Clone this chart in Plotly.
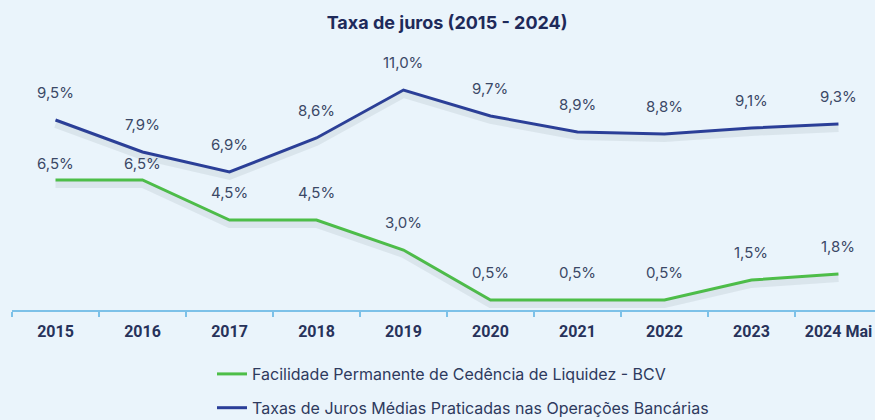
import plotly.graph_objects as go

# ---- data ----
years = ["2015", "2016", "2017", "2018", "2019", "2020", "2021", "2022", "2023", "2024 Mai"]
facilidade_bcv = [6.5, 6.5, 4.5, 4.5, 3.0, 0.5, 0.5, 0.5, 1.5, 1.8]
taxas_medias = [9.5, 7.9, 6.9, 8.6, 11.0, 9.7, 8.9, 8.8, 9.1, 9.3]
series_names = [
    "Facilidade Permanente de Cedência de Liquidez - BCV",
    "Taxas de Juros Médias Praticadas nas Operações Bancárias",
]
title_text = "Taxa de juros (2015 - 2024)"

# ---- styles ----
BG = "#EAF4FB"
GREEN = "#4DBE48"
BLUE = "#2A3E98"
LABEL_COLOR = "#3B4866"
TICK_COLOR = "#27325A"
AXIS_COLOR = "#7DC1E8"
SHADOW = "rgba(110,120,135,0.12)"

def fmt(v):
    return f"{v:.1f}".replace(".", ",") + "%"

fig = go.Figure()

# soft shadows (same data drawn on an overlaying axis shifted slightly downward)
for vals in (facilidade_bcv, taxas_medias):
    fig.add_trace(go.Scatter(
        x=years, y=vals, mode="lines", yaxis="y2",
        line=dict(color=SHADOW, width=7), showlegend=False, hoverinfo="skip",
    ))

fig.add_trace(go.Scatter(
    x=years, y=facilidade_bcv, mode="lines", name=series_names[0],
    line=dict(color=GREEN, width=3), legendgroup="a",
))
fig.add_trace(go.Scatter(
    x=years, y=taxas_medias, mode="lines", name=series_names[1],
    line=dict(color=BLUE, width=3), legendgroup="b",
))

annotations = []
green_shift = [17, 17, 28, 28, 28, 28, 28, 28, 28, 28]
for i, v in enumerate(facilidade_bcv):
    annotations.append(dict(x=i, xref="x", y=v, yref="y", text=fmt(v), showarrow=False,
                            yshift=green_shift[i],
                            font=dict(family="Inter", size=15, color=LABEL_COLOR)))
for i, v in enumerate(taxas_medias):
    annotations.append(dict(x=i, xref="x", y=v, yref="y", text=fmt(v), showarrow=False,
                            yshift=28,
                            font=dict(family="Inter", size=15, color=LABEL_COLOR)))

fig.update_layout(
    width=875, height=420,
    paper_bgcolor=BG, plot_bgcolor=BG,
    margin=dict(l=12, r=0, t=50, b=110, autoexpand=False),
    title=dict(text=f"<b>{title_text}</b>", x=0.511, xanchor="center", y=1 - 23 / 420,
               yanchor="middle", font=dict(family="Inter", size=18, color="#1E2A5A")),
    xaxis=dict(
        type="category", range=[-0.5, 9.42], tickson="boundaries",
        showline=True, linecolor=AXIS_COLOR, linewidth=2,
        ticks="outside", ticklen=5, tickcolor=AXIS_COLOR, tickwidth=1.5,
        ticklabelstandoff=6,
        showgrid=False, zeroline=False, automargin=False,
        tickfont=dict(family="Roboto", size=16, color=TICK_COLOR, weight="bold"),
        fixedrange=True,
    ),
    yaxis=dict(range=[0, 13], visible=False, showgrid=False, zeroline=False, fixedrange=True),
    yaxis2=dict(range=[0.22, 13.22], overlaying="y", visible=False, showgrid=False,
                zeroline=False, fixedrange=True),
    showlegend=True,
    legend=dict(
        x=(212 - 12) / 863, xref="paper", xanchor="left",
        y=1 - 357 / 420, yref="container", yanchor="top",
        orientation="v", bgcolor="rgba(0,0,0,0)", tracegroupgap=10,
        font=dict(family="Inter", size=16, color="#2E3A5E"),
    ),
    annotations=annotations,
)

fig.write_html("out.html", config={"displayModeBar": False},
               post_script="document.body.style.margin='0';document.body.style.overflow='hidden';")
